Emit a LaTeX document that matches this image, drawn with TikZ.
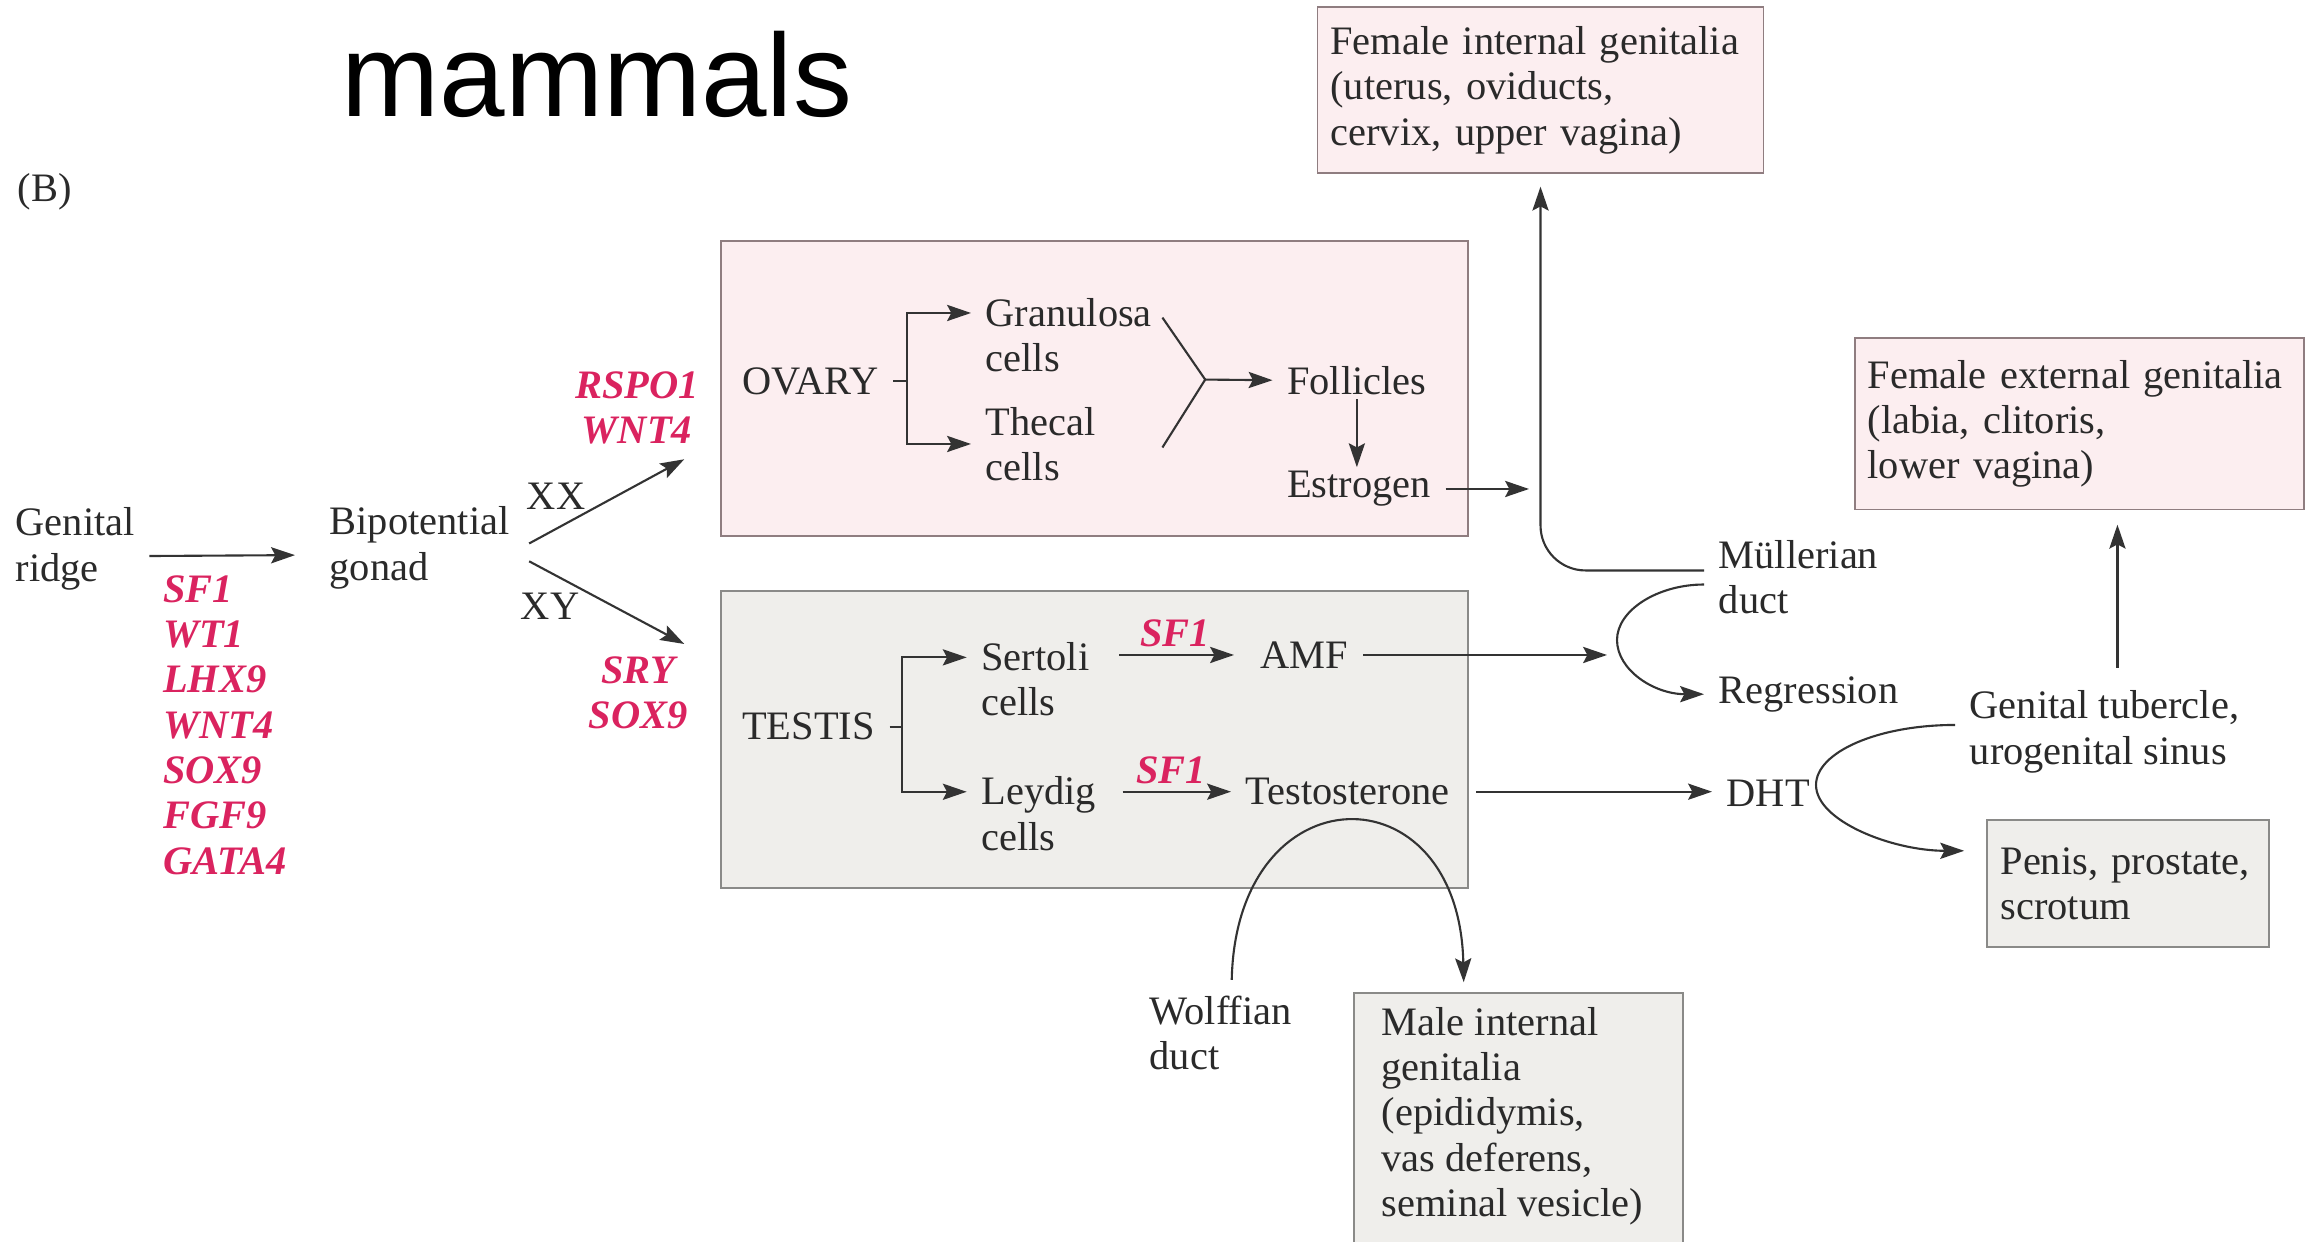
\documentclass[tikz,border=0pt]{standalone}
\usepackage{fontspec}
\setmainfont{Liberation Serif}
\newfontfamily\headfont{Liberation Sans}
\usepackage{tikz}
\usetikzlibrary{positioning,arrows.meta,calc}
\definecolor{ink}{HTML}{2A2A2A}
\definecolor{inkline}{HTML}{333333}
\definecolor{genered}{RGB}{218,35,95}
\definecolor{pinkfill}{HTML}{FCEEF0}
\definecolor{pinkedge}{HTML}{8F7D80}
\definecolor{greyfill}{HTML}{EFEEEB}
\definecolor{greyedge}{HTML}{8A8A88}
\hyphenpenalty=10000
\newcommand\txtsz{\fontsize{11.5pt}{12.9pt}\selectfont}
\tikzset{
  flow/.style={-{Stealth[length=6.8pt,width=4.6pt,inset=1.2pt]},line width=0.6pt,draw=inkline},
  wire/.style={line width=0.6pt,draw=inkline},
  txt/.style={inner xsep=4pt,inner ysep=1pt,align=left,text=ink,font=\txtsz},
  gene/.style={inner sep=0pt,align=center,text=genered,font=\txtsz\bfseries\itshape}, % red gene names
  pinkbg/.style={fill=pinkfill,draw=pinkedge,line width=0.5pt},
  greybg/.style={fill=greyfill,draw=greyedge,line width=0.5pt},
}
\begin{document}
\begin{tikzpicture}
  \useasboundingbox (0,0) rectangle (23.16,12.42);
  \filldraw[pinkbg] (7.208,10.013) rectangle (14.681,7.058);
  \filldraw[greybg] (7.208,6.512) rectangle (14.681,3.543);
  \filldraw[greybg] (13.537,2.487) rectangle (16.826,-0.3);

  \node[anchor=base west,inner sep=0pt,font=\headfont\fontsize{33.5pt}{40pt}\selectfont] (title) at (3.41,11.25) {mammals};
  \node[txt,anchor=west] (panel) at (0.03,10.50) {(B)};

  \node[txt,anchor=west] (ridge) at (0.01,6.93) {Genital\\ridge};
  \node[txt,anchor=west] (gonad) at (3.15,6.94) {Bipotential\\gonad};
  \node[gene,align=left,anchor=west] (early) at (1.625,5.17) {SF1\\WT1\\LHX9\\WNT4\\SOX9\\FGF9\\GATA4};
  \draw[flow,shorten >=0.2cm] ([yshift=-2pt]ridge.east) -- ([yshift=-2pt]gonad.west);
  \draw[flow] ([shift={(0.05,0.045)}]gonad.east) -- ++(1.551,0.842);
  \draw[flow] ([shift={(0.05,-0.133)}]gonad.east) -- ++(1.551,-0.827);
  \node[txt] (xx) at (5.56,7.46) {XX};
  \node[txt] (xy) at (5.50,6.36) {XY};
  \node[gene] (fgenes) at (6.37,8.34) {RSPO1\\WNT4};
  \node[gene] (mgenes) at (6.38,5.49) {SRY\\SOX9};

  % ---- ovary ----
  \node[txt,anchor=west] (ovary) at (7.275,8.61) {OVARY};
  \coordinate (obr) at (9.069,8.61);
  \draw[wire] (ovary) -- (obr);
  \node[txt,anchor=west] (gran) at (9.71,9.07) {Granulosa\\cells};
  \node[txt,anchor=west] (thec) at (9.71,7.98) {Thecal\\cells};
  \draw[flow] (obr) |- ([yshift=0.22cm]gran.west);
  \draw[flow] (obr) |- (thec.west);
  \coordinate (mrg) at (12.052,8.624);
  \draw[wire] (mrg) -- ++(-0.428,0.62) (mrg) -- ++(-0.428,-0.679);
  \node[txt,anchor=west] (foll) at (12.725,8.61) {Follicles};
  \node[txt,anchor=west] (estr) at (12.725,7.53) {Estrogen};
  \draw[flow] (mrg) -- (foll);
  \draw[flow] (foll) -- (foll |- estr.north);

  % ---- testis ----
  \node[txt,anchor=west] (testis) at (7.275,5.153) {TESTIS};
  \coordinate (tbr) at (9.024,5.153);
  \draw[wire] (testis) -- (tbr);
  \node[txt,anchor=west] (sert) at (9.667,5.626) {Sertoli\\cells};
  \node[txt,anchor=west] (leyd) at (9.667,4.282) {Leydig\\cells};
  \draw[flow] (tbr) |- ([yshift=0.22cm]sert.west);
  \draw[flow] (tbr) |- ([yshift=0.22cm]leyd.west);
  \node[txt,anchor=west] (amf) at (12.46,5.87) {AMF};
  \node[txt,anchor=west] (test) at (12.31,4.503) {Testosterone};
  \draw[flow,shorten <=0.15cm,shorten >=0.12cm] (sert.east |- amf) -- (amf) node[midway,above=2pt,gene] {SF1};
  \draw[flow,shorten <=0.12cm] (leyd.east |- test) -- (test) node[midway,above=2pt,gene] {SF1};

  % ---- ducts ----
  \node[txt,anchor=west] (mull) at (17.04,6.645) {Müllerian\\duct};
  \node[txt,anchor=west] (regr) at (17.04,5.478) {Regression};
  \node[txt,pinkbg,text width=4.2cm,inner xsep=0.13cm,minimum height=1.654cm] (fint) at (15.405,11.519) {Female internal genitalia\\(uterus, oviducts,\\cervix, upper vagina)};
  \draw[flow,rounded corners=0.45cm,shorten >=0.13cm] ([yshift=2pt]mull.west) -| (fint.south);
  \coordinate (estend) at (15.29,7.53);
  \draw[flow] (estr) -- (estend);
  \coordinate (mc) at (16.17,6.02);
  \draw[flow] ([yshift=-2pt]mull.west) .. controls +(-0.46,0) and +(0,0.30) .. (mc) .. controls +(0,-0.30) and +(-0.5,0) .. (regr.west);
  \coordinate (amfend) at (16.07,5.84);
  \draw[flow] (amf) -- (amf -| amfend);

  \node[txt,anchor=west] (dht) at (17.12,4.49) {DHT};
  \draw[flow,shorten <=0.12cm] (test) -- (test -| dht.west);
  \node[txt,anchor=west] (gtub) at (19.55,5.10) {Genital tubercle,\\urogenital sinus};
  \node[txt,pinkbg,text width=4.24cm,inner xsep=0.125cm,minimum height=1.714cm] (fext) at (20.796,8.181) {Female external genitalia\\(labia, clitoris,\\lower vagina)};
  \node[txt,greybg,text width=2.55cm,inner xsep=0.135cm,minimum height=1.27cm] (penis) at (21.28,3.585) {Penis, prostate,\\scrotum};
  \coordinate (dc) at (18.16,4.57);
  \draw[flow,shorten >=0.22cm] ([yshift=2pt]gtub.west) .. controls +(-0.77,0) and +(0,0.33) .. (dc) .. controls +(0,-0.36) and +(-0.94,0) .. ([yshift=9.3pt]penis.west);
  \draw[flow] ([shift={(0.13,0.19)}]gtub.north) -- ++(0,1.43);

  \node[txt,anchor=west] (wolf) at (11.35,2.088) {Wolffian\\duct};
  \node[txt,anchor=north west] (male) at (13.67,2.39) {Male internal\\genitalia\\(epididymis,\\vas deferens,\\seminal vesicle)};
  \coordinate (maletop) at (14.637,2.598);
  \draw[flow] ([shift={(0.11,0.12)}]wolf.north) .. controls +(0.044,2.097) and +(-0.044,2.156) .. (maletop);
\end{tikzpicture}
\end{document}
